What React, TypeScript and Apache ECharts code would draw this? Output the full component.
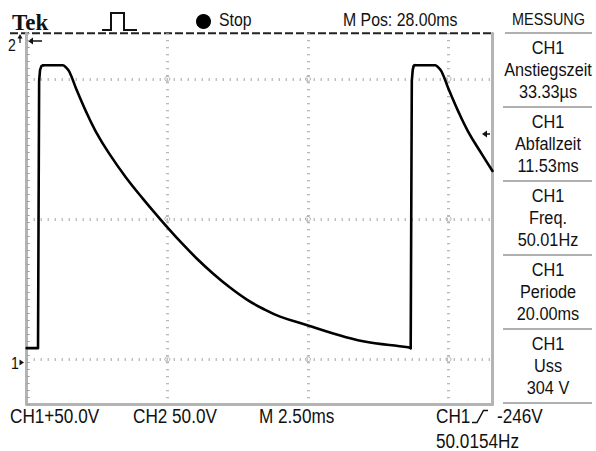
import React, { useEffect, useRef } from "react";
import * as echarts from "echarts";

// CH1 trace, time in ms from the left edge of the screen, volts above CH1 ground
// rising edges (drawn straight)
const edge1Ms = [0, 0.61, 0.67, 0.72, 0.8, 0.9];
const edge1Volts = [12, 12, 300, 312, 316.3, 317];
const edge2Ms = [20.7, 20.76, 20.81, 20.86, 20.92];
const edge2Volts = [12, 300, 312, 316.3, 317];
// flat tops and decays (drawn smooth)
const decay1Ms = [
  0.9, 1.95, 2.1, 2.3, 2.66, 3.2, 3.74, 4.44, 5.35, 6.27, 7.16, 7.67, 8.26, 9.18, 10.04,
  10.96, 11.87, 12.74, 13.66, 15.16, 16.35, 18.13, 20.55, 20.7,
];
const decay1Volts = [
  317, 317, 315, 310, 292, 267, 245, 222, 196, 173, 152, 140.3, 127.3, 108.4, 92.5,
  77.3, 64.3, 54.5, 46, 36.5, 29, 19.5, 13, 12,
];
const decay2Ms = [20.92, 22.02, 22.17, 22.37, 22.73, 23.27, 23.81, 24.51, 25.11];
const decay2Volts = [317, 317, 315, 310, 292, 267, 245, 222, 203];

// graticule
const gridTimesMs = [7.58, 15.16, 22.74];
const gridVolts = [0, 151.3, 302.2];

// texts
const headerBrand = "Tek";
const headerState = "Stop";
const headerPosition = "M Pos: 28.00ms";
const menuTitle = "MESSUNG";
const measurementChannels = ["CH1", "CH1", "CH1", "CH1", "CH1"];
const measurementNames = ["Anstiegszeit", "Abfallzeit", "Freq.", "Periode", "Uss"];
const measurementValues = ["33.33µs", "11.53ms", "50.01Hz", "20.00ms", "304 V"];
const footerCh1 = "CH1+50.0V";
const footerCh2 = "CH2 50.0V";
const footerTime = "M 2.50ms";
const footerTrigger = "CH1";
const footerLevel = "-246V";
const footerFreq = "50.0154Hz";

const SANS = "'Liberation Sans', Arial, sans-serif";
const NARROW = 0.88;

export default function App() {
  const ref = useRef<HTMLDivElement>(null);
  useEffect(() => {
    if (!ref.current) return;
    const chart = echarts.init(ref.current, undefined, { renderer: "svg" });
    const zip = (xs: number[], ys: number[]) => xs.map((t, i) => [t, ys[i]]);
    const crossings: number[][] = [];
    gridTimesMs.forEach((t) => gridVolts.forEach((v) => crossings.push([t, v])));

    const txt = (x: number, y: number, text: string, size = 18.5, align = "left") => ({
      type: "text",
      x,
      y,
      scaleX: NARROW,
      silent: true,
      style: {
        text,
        fill: "#111",
        font: `${size}px ${SANS}`,
        textAlign: align,
        textVerticalAlign: "middle",
      },
    });

    const graphics: any[] = [];
    // header
    graphics.push({
      type: "text",
      x: 12,
      y: 22.5,
      style: {
        text: headerBrand,
        fill: "#111",
        font: `bold 23px 'Liberation Serif', 'Times New Roman', serif`,
        textVerticalAlign: "middle",
      },
    });
    graphics.push({
      type: "polyline",
      shape: { points: [[102, 30], [111, 30], [111, 13], [124, 13], [124, 30], [137, 30]] },
      style: { stroke: "#111", lineWidth: 2, fill: "none" },
    });
    graphics.push({ type: "circle", shape: { cx: 203.5, cy: 21.5, r: 7.5 }, style: { fill: "#000" } });
    graphics.push(txt(219, 20.5, headerState, 18));
    graphics.push(txt(343, 20, headerPosition, 18));
    graphics.push(txt(548.5, 19.5, menuTitle, 16.4, "center"));
    // dashed top line
    graphics.push({
      type: "line",
      shape: { x1: 10, y1: 33.3, x2: 493, y2: 33.3 },
      style: { stroke: "#222", lineWidth: 2, lineDash: [8, 3] },
    });
    // menu separators and measurement texts
    for (let i = 0; i < 6; i++) {
      const y = 33 + 74 * i;
      graphics.push({
        type: "line",
        shape: { x1: i === 0 ? 505 : 503, y1: y, x2: 592, y2: y },
        style: { stroke: "#b0b0b0", lineWidth: 2 },
      });
    }
    for (let i = 0; i < 5; i++) {
      const s = 33 + 74 * i;
      graphics.push(txt(548, s + 15, measurementChannels[i], 18.5, "center"));
      graphics.push(txt(548, s + 37, measurementNames[i], 18.5, "center"));
      graphics.push(txt(548, s + 59, measurementValues[i], 18.5, "center"));
    }
    // footer
    graphics.push(txt(10, 416.5, footerCh1, 19.5));
    graphics.push(txt(133, 416.5, footerCh2, 19.5));
    graphics.push(txt(259, 416.5, footerTime, 19.5));
    graphics.push(txt(436, 416.5, footerTrigger, 19.5));
    graphics.push({
      type: "polyline",
      shape: { points: [[472, 422.5], [477, 422.5], [483.5, 410.5], [488, 410.5]] },
      style: { stroke: "#111", lineWidth: 1.5, fill: "none" },
    });
    graphics.push(txt(497, 416.5, footerLevel, 19.5));
    graphics.push(txt(436, 441, footerFreq, 19.5));
    // channel markers
    graphics.push(txt(8, 45, "2", 16));
    graphics.push({
      type: "polygon",
      shape: { points: [[20, 34], [17.5, 38.5], [22.5, 38.5]] },
      style: { fill: "#111" },
    });
    graphics.push({ type: "line", shape: { x1: 20, y1: 38, x2: 20, y2: 43 }, style: { stroke: "#111", lineWidth: 1.2 } });
    graphics.push({
      type: "polygon",
      shape: { points: [[28, 41], [33, 37.5], [33, 44.5]] },
      style: { fill: "#111" },
    });
    graphics.push({ type: "line", shape: { x1: 32, y1: 41, x2: 42, y2: 41 }, style: { stroke: "#111", lineWidth: 1.5 } });
    graphics.push(txt(11, 363, "1", 16));
    graphics.push({
      type: "polygon",
      shape: { points: [[24, 362.5], [19.5, 359.5], [19.5, 365.5]] },
      style: { fill: "#111" },
    });
    // trigger level arrow
    graphics.push({
      type: "polygon",
      shape: { points: [[482, 134], [487, 130.5], [487, 137.5]] },
      style: { fill: "#111" },
    });
    graphics.push({ type: "line", shape: { x1: 486, y1: 134, x2: 490, y2: 134 }, style: { stroke: "#111", lineWidth: 1.5 } });

    const gridLineStyle = { color: "#a4a4a4", width: 3, type: [1, 6] };
    const borderStyle = { color: "#b4b4b4", width: 3 };
    const traceStyle = { color: "#000", width: 2.6, join: "round", cap: "round" };
    const traceSeries = (data: number[][], smooth: number | boolean) => ({
      type: "line",
      data,
      showSymbol: false,
      symbol: "none",
      smooth,
      silent: true,
      z: 5,
      lineStyle: traceStyle,
    });

    chart.setOption({
      animation: false,
      backgroundColor: "#ffffff",
      grid: { left: 26.7, top: 33.3, width: 465.8, height: 371, containLabel: false },
      xAxis: [
        {
          type: "value",
          min: 0,
          max: 25.11,
          interval: 7.58,
          axisLine: { show: true, onZero: false, lineStyle: borderStyle },
          axisTick: { show: false },
          axisLabel: { show: false },
          splitLine: { show: true, showMinLine: false, showMaxLine: false, lineStyle: gridLineStyle },
        },
      ],
      yAxis: [
        {
          type: "value",
          min: -48.5,
          max: 351.4,
          position: "left",
          axisLine: { show: true, onZero: false, lineStyle: borderStyle },
          axisTick: { show: false },
          axisLabel: { show: false },
          splitLine: { show: false },
        },
        {
          type: "value",
          min: -48.5,
          max: 351.4,
          position: "right",
          axisLine: { show: true, onZero: false, lineStyle: borderStyle },
          axisTick: { show: false },
          axisLabel: { show: false },
          splitLine: { show: false },
        },
        {
          type: "value",
          min: 0,
          max: 371,
          interval: 7,
          position: "left",
          axisLine: { show: false },
          axisTick: { show: true, inside: true, length: 3, lineStyle: { color: "#a0a0a0", width: 1 } },
          axisLabel: { show: false },
          splitLine: { show: false },
        },
      ],
      series: [
        {
          type: "scatter",
          data: crossings,
          symbol: "circle",
          symbolSize: 5,
          silent: true,
          z: 1,
          itemStyle: { color: "rgba(0,0,0,0)", borderColor: "#a0a0a0", borderWidth: 1 },
          markLine: {
            silent: true,
            symbol: ["none", "none"],
            label: { show: false },
            lineStyle: gridLineStyle,
            data: gridVolts.map((v) => ({ yAxis: v })),
          },
        },
        traceSeries(zip(edge1Ms, edge1Volts), false),
        traceSeries(zip(decay1Ms, decay1Volts), 0.4),
        traceSeries(zip(edge2Ms, edge2Volts), false),
        traceSeries(zip(decay2Ms, decay2Volts), 0.4),
      ],
      graphic: graphics,
    });
    return () => chart.dispose();
  }, []);
  return (
    <div
      ref={ref}
      style={{ position: "fixed", left: 0, top: 0, width: 596, height: 451, background: "#fff" }}
    />
  );
}
